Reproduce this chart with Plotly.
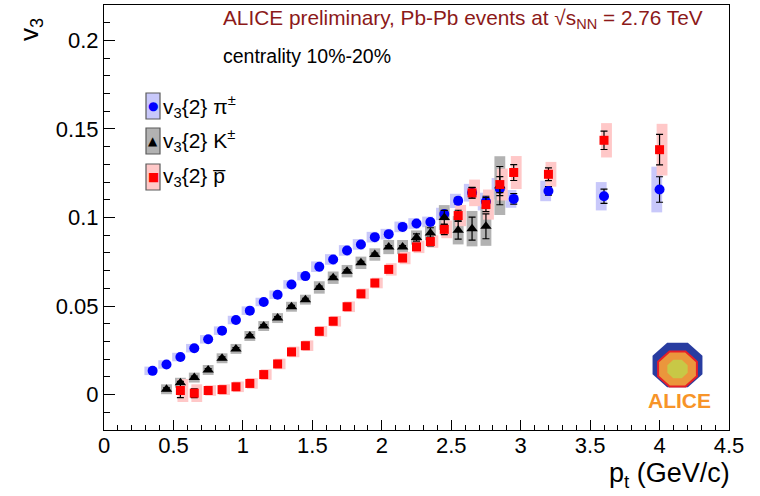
import math
import plotly.graph_objects as go

# ---------------- data ----------------
pion_pt = [0.35, 0.45, 0.55, 0.65, 0.75, 0.85, 0.95, 1.05, 1.15, 1.25, 1.35, 1.45, 1.55, 1.65,
           1.75, 1.85, 1.95, 2.05, 2.15, 2.25, 2.35, 2.45, 2.55, 2.65, 2.75, 2.85, 2.95, 3.2, 3.6, 4.0]
pion_v = [0.0134, 0.0170, 0.0212, 0.0262, 0.0312, 0.0361, 0.0421, 0.0474, 0.0523, 0.0564, 0.0622,
          0.0669, 0.0722, 0.0763, 0.0814, 0.0848, 0.0889, 0.0906, 0.0947, 0.0966, 0.0975, 0.1020,
          0.1094, 0.1140, 0.1090, 0.1163, 0.1105, 0.1150, 0.1120, 0.1158]
pion_stat = [0.0008] * 20 + [0.0015, 0.0018, 0.0020, 0.0030, 0.0030, 0.0040, 0.0030, 0.0024, 0.0040, 0.0072]
pion_sys = [0.0024] * 12 + [0.0030] * 9 + [0.0035, 0.0040, 0.0050, 0.0050, 0.0060, 0.0050, 0.0058, 0.0080, 0.0129]

kaon_pt = [0.45, 0.55, 0.65, 0.75, 0.85, 0.95, 1.05, 1.15, 1.25, 1.35, 1.45, 1.55, 1.65, 1.75,
           1.85, 1.95, 2.05, 2.15, 2.25, 2.35, 2.45, 2.55, 2.65, 2.75, 2.85]
kaon_v = [0.0030, 0.0067, 0.0096, 0.0139, 0.0205, 0.0258, 0.0331, 0.0387, 0.0432, 0.0496, 0.0536,
          0.0605, 0.0660, 0.0697, 0.0744, 0.0791, 0.0833, 0.0833, 0.0887, 0.0912, 0.1000, 0.0928,
          0.0937, 0.0950, 0.1180]
kaon_stat = [0.0008] * 18 + [0.0020, 0.0030, 0.0040, 0.0050, 0.0065, 0.0070, 0.0108]
kaon_sys = [0.0028] * 11 + [0.0035] * 5 + [0.0040] * 4 + [0.0070, 0.0080, 0.0100, 0.0110, 0.0166]

proton_pt = [0.55, 0.65, 0.75, 0.85, 0.95, 1.05, 1.15, 1.25, 1.35, 1.45, 1.55, 1.65, 1.75, 1.85,
             1.95, 2.05, 2.15, 2.25, 2.35, 2.45, 2.55, 2.65, 2.75, 2.85, 2.95, 3.2, 3.6, 4.0]
proton_v = [0.0023, 0.0008, 0.0023, 0.0028, 0.0044, 0.0063, 0.0113, 0.0173, 0.0241, 0.0276, 0.0357,
            0.0414, 0.0496, 0.0569, 0.0630, 0.0707, 0.0771, 0.0834, 0.0864, 0.0933, 0.1011, 0.1139,
            0.1073, 0.1186, 0.1254, 0.1244, 0.1436, 0.1383]
proton_stat = [0.0040, 0.0025] + [0.0010] * 15 + [0.0020, 0.0025, 0.0030, 0.0030, 0.0030, 0.0040,
                                                0.0045, 0.0045, 0.0036, 0.0052, 0.0086]
proton_sys = [0.0065, 0.0050] + [0.0030] * 13 + [0.0035] * 4 + [0.0050, 0.0060, 0.0075, 0.0085,
                                                              0.0090, 0.0093, 0.0070, 0.0097, 0.0146]

x_tickvals = [0, 0.5, 1, 1.5, 2, 2.5, 3, 3.5, 4, 4.5]
y_tickvals = [0, 0.05, 0.1, 0.15, 0.2]

legend_labels = ["v<sub>3</sub>{2} π<sup>±</sup>", "v<sub>3</sub>{2} K<sup>±</sup>", "v<sub>3</sub>{2} p\u0305"]

# ---------------- styles ----------------
FONT = "Liberation Sans, Arial, sans-serif"
BOX_W = 0.078
series = [
    dict(pt=pion_pt, v=pion_v, stat=pion_stat, sys=pion_sys, shift=-0.02,
         box="rgb(200,200,250)", color="#0000ff", symbol="circle", size=10),
    dict(pt=kaon_pt, v=kaon_v, stat=kaon_stat, sys=kaon_sys, shift=0.0,
         box="rgb(178,178,178)", color="#000000", symbol="triangle-up", size=10),
    dict(pt=proton_pt, v=proton_v, stat=proton_stat, sys=proton_sys, shift=0.018,
         box="rgb(255,200,200)", color="#ff0000", symbol="square", size=9),
]

fig = go.Figure()
for s in series:
    fig.add_trace(go.Bar(
        x=s["pt"], y=[2 * e for e in s["sys"]], base=[v - e for v, e in zip(s["v"], s["sys"])],
        width=BOX_W, offset=-BOX_W / 2 + s["shift"], marker=dict(color=s["box"], line=dict(width=0)),
        showlegend=False, hoverinfo="skip"))
for s in series:
    fig.add_trace(go.Scatter(
        x=s["pt"], y=s["v"], mode="markers",
        marker=dict(symbol=s["symbol"], size=s["size"], color=s["color"], line=dict(width=0)),
        error_y=dict(type="data", array=s["stat"], color="black", thickness=1.2, width=3.5),
        showlegend=False))

# pixel -> paper helpers for decorations
L, R, T, B = 104, 729, 5, 430
def px(x):
    return (x - L) / (R - L)
def py(y):
    return (B - y) / (B - T)

def note(text, x, y, size, color="black", xanchor="left", **kw):
    return dict(text=text, x=px(x), y=py(y), xref="paper", yref="paper", xanchor=xanchor,
                yanchor="middle", showarrow=False, font=dict(family=kw.pop("family", FONT), size=size, color=color), **kw)

annotations = [
    note("ALICE preliminary, Pb-Pb events at √s<sub>NN</sub> = 2.76 TeV", 221, 19, 20.8, "rgb(140,25,25)"),
    note("centrality 10%-20%", 221, 56, 19.5),
    note("v<sub>3</sub>", 30, 30, 26, xanchor="center", textangle=-90),
    note("p<sub>t</sub> (GeV/c)", 732, 475, 27, xanchor="right"),
]

shapes = []
# legend
leg_rows = [106, 141, 177]
glyphs = ["●", "▲", "■"]
for i, s in enumerate(series):
    yc = leg_rows[i]
    shapes.append(dict(type="rect", xref="paper", yref="paper", x0=px(146), x1=px(160),
                       y0=py(yc + 13), y1=py(yc - 13), fillcolor=s["box"],
                       line=dict(color="rgb(90,90,90)", width=1.2), layer="above"))
    annotations.append(note(glyphs[i], 153, yc, 12, s["color"], xanchor="center", family="DejaVu Sans"))
    annotations.append(note(legend_labels[i], 161, yc, 21))

# ALICE logo (decoration)
def octagon(cx, cy, rx, ry):
    pts = []
    for k in range(8):
        a = math.radians(22.5 + 45 * k)
        pts.append((px(cx + rx * math.cos(a)), py(cy - ry * math.sin(a))))
    return "M " + " L ".join(f"{x:.5f},{y:.5f}" for x, y in pts) + " Z"

shapes.append(dict(type="path", xref="paper", yref="paper", path=octagon(677.5, 365, 27, 24),
                   fillcolor="rgb(40,60,160)", line=dict(width=0), layer="above"))
shapes.append(dict(type="path", xref="paper", yref="paper", path=octagon(677.5, 369, 21, 19),
                   fillcolor="rgb(235,150,60)", line=dict(color="rgb(230,30,40)", width=2), layer="above"))
shapes.append(dict(type="path", xref="paper", yref="paper", path=octagon(677.5, 369, 11, 10),
                   fillcolor="rgb(200,200,70)", line=dict(width=0), layer="above"))
shapes.append(dict(type="rect", xref="paper", yref="paper", x0=px(650), x1=px(705), y0=py(392), y1=py(388),
                   fillcolor="white", line=dict(width=0), layer="above"))
annotations.append(note("<b>ALICE</b>", 679, 400, 21, "rgb(247,148,40)", xanchor="center"))

axis_common = dict(showgrid=False, zeroline=False, showline=True, mirror=True, linecolor="black",
                   linewidth=1.2, ticks="inside", tickcolor="black", tickwidth=1, automargin=False,
                   tickfont=dict(family=FONT, size=22, color="black"))
fig.update_layout(
    width=760, height=496, margin=dict(l=L, r=760 - R, t=T, b=496 - B),
    paper_bgcolor="white", plot_bgcolor="white", barmode="overlay", showlegend=False,
    xaxis=dict(range=[0, 4.5], tickvals=x_tickvals, ticktext=[f"{v:g}" for v in x_tickvals], ticklen=10,
               ticklabelstandoff=-5,
               minor=dict(dtick=0.1, tick0=0, ticks="inside", ticklen=5, tickcolor="black"), **axis_common),
    yaxis=dict(range=[-0.02, 0.22], tickvals=y_tickvals, ticktext=[f"{v:g}" for v in y_tickvals], ticklen=11,
               minor=dict(dtick=0.01, tick0=0, ticks="inside", ticklen=6, tickcolor="black"), **axis_common),
    annotations=annotations, shapes=shapes,
)
fig.write_html("out.html", config={"displayModeBar": False},
               post_script="document.body.style.margin='0';")
